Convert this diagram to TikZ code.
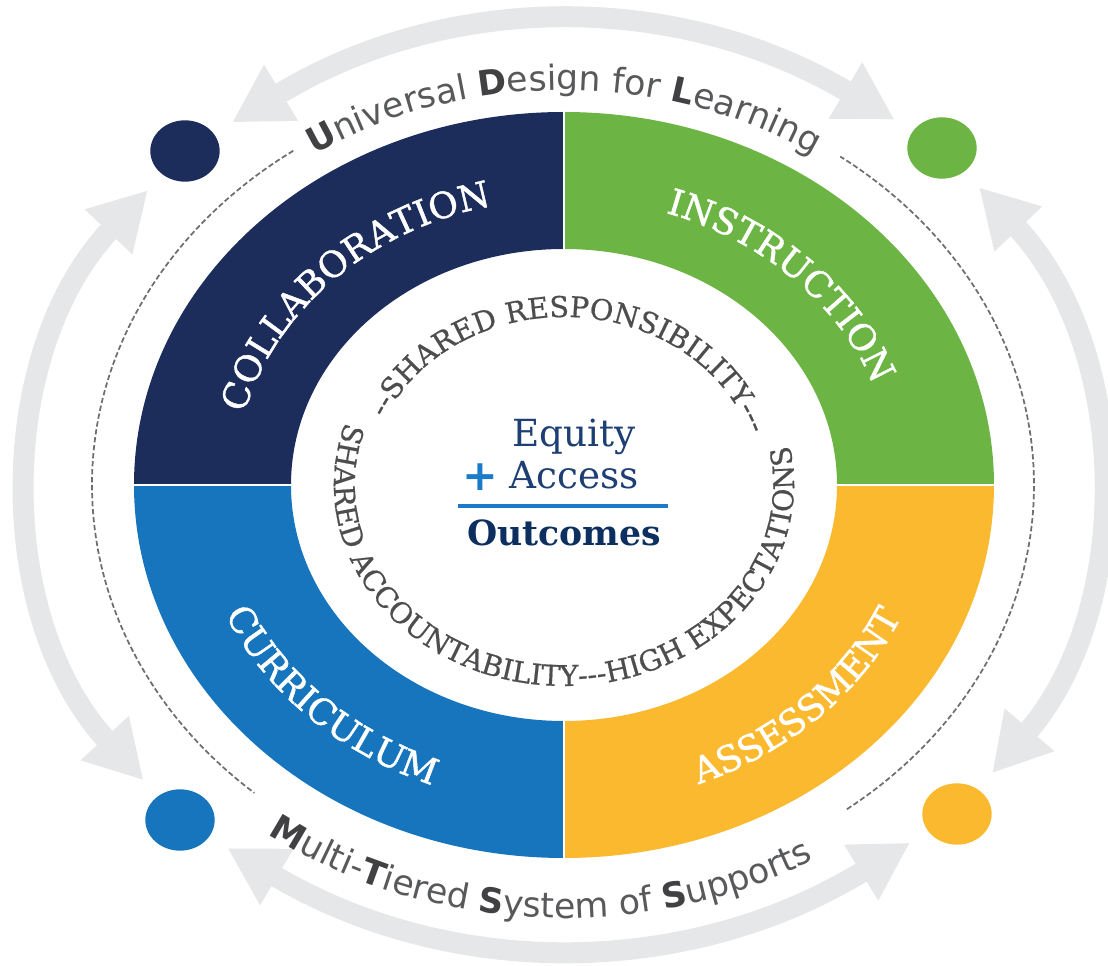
\documentclass[tikz,border=0pt]{standalone}
\usepackage{fontspec}
\usetikzlibrary{decorations.text,arrows.meta,shapes.geometric}
\newfontfamily\sansf{DejaVu Sans}
\newfontfamily\slabf{DejaVu Serif}
\newfontfamily\slabheavy{DejaVu Serif}[FakeBold=1.2]
\newfontfamily\slabmid{DejaVu Serif}[FakeBold=0.6]
\newcommand\outerfont{\sansf\fontsize{26}{26}\selectfont}
\newcommand\ringfont{\slabheavy\fontsize{27}{27}\selectfont}
\newcommand\innerfont{\slabmid\fontsize{21.5}{21.5}\selectfont}
\definecolor{navy}{HTML}{1C2C5B}
\definecolor{leaf}{HTML}{6CB545}
\definecolor{ocean}{HTML}{1675BD}
\definecolor{gold}{HTML}{FBB930}
\definecolor{mist}{HTML}{E6E7E8}
\definecolor{slate}{HTML}{6D6E71}
\definecolor{outgray}{HTML}{58595B}
\definecolor{initgray}{HTML}{414042}
\definecolor{ink}{HTML}{4D4D4F}
\definecolor{eqblue}{HTML}{1D3F73}
\definecolor{deepblue}{HTML}{0D2F5F}
\definecolor{plusblue}{HTML}{1B7BC8}

\begin{document}
\begin{tikzpicture}[x=0.75pt, y=0.75pt,
    dotnode/.style={ellipse, minimum width=52pt, minimum height=46pt, inner sep=0pt},
    grayarrow/.style={mist, line width=15.75pt, {Triangle[length=43pt,width=46pt]}-{Triangle[length=43pt,width=46pt]}, shorten <=16pt, shorten >=16pt},
    dashline/.style={slate, line width=1.3pt, dash pattern=on 4pt off 2pt},
    centertext/.style={anchor=base, inner sep=0pt}]
    \useasboundingbox (-564,-481) rectangle (544,485);

    % four quarters of the ring
    \foreach \c/\a in {leaf/0, navy/90, ocean/180, gold/270}
        \fill[\c] (\a:430 and 373) arc[start angle=\a, delta angle=90, x radius=430, y radius=373]
            -- ({\a+90}:273 and 236) arc[start angle=\a+90, delta angle=-90, x radius=273, y radius=236] -- cycle;
    \draw[white, line width=2pt] (-440,0) -- (440,0) (0,-380) -- (0,380);

    % corner dots and the grey arrows between them
    \node[dotnode, fill=navy] (navydot) at (-379,334) {};
    \node[dotnode, fill=leaf] (greendot) at (378,337) {};
    \node[dotnode, fill=ocean] (bluedot) at (-384,-335) {};
    \node[dotnode, fill=gold] (yellowdot) at (393,-329) {};
    \draw[grayarrow] (navydot) to[bend left=31] (greendot);
    \draw[grayarrow] (greendot) to[bend left=42] (yellowdot);
    \draw[grayarrow] (yellowdot) to[bend left=31] (bluedot);
    \draw[grayarrow] (bluedot) to[bend left=43] (navydot);

    % dashed arcs
    \draw[dashline] (125:472 and 408) arc[start angle=125, end angle=229, x radius=472, y radius=408];
    \draw[dashline] (-53:470 and 406) arc[start angle=-53, end angle=54, x radius=470, y radius=406];

    % outer labels
    \path[decorate, decoration={text along path, text align=center,
        text={|\outerfont\bfseries\color{initgray}|U|\outerfont\color{outgray}|niversal |\outerfont\bfseries\color{initgray}|D|\outerfont\color{outgray}|esign for |\outerfont\bfseries\color{initgray}|L|\outerfont\color{outgray}|earning}}]
        (180:456 and 395) arc[start angle=180, end angle=0, x radius=456, y radius=395];
    \path[decorate, decoration={text along path, text align=center,
        text={|\outerfont\bfseries\color{initgray}|M|\outerfont\color{outgray}|ulti-|\outerfont\bfseries\color{initgray}|T|\outerfont\color{outgray}|iered |\outerfont\bfseries\color{initgray}|S|\outerfont\color{outgray}|ystem of |\outerfont\bfseries\color{initgray}|S|\outerfont\color{outgray}|upports}}]
        (176.5:500 and 433) arc[start angle=176.5, end angle=356.5, x radius=500, y radius=433];

    % ring labels
    \path[decorate, decoration={text along path, text align=center, text color=white, text={|\ringfont|COLLABORATION}}]
        (180:330 and 286) arc[start angle=180, end angle=90, x radius=330, y radius=286];
    \path[decorate, decoration={text along path, text align=center, text color=white, text={|\ringfont|INSTRUCTION}}]
        (90:330 and 286) arc[start angle=90, end angle=0, x radius=330, y radius=286];
    \path[decorate, decoration={text along path, text align=center, text color=white, text={|\ringfont|CURRICULUM}}]
        (180:370 and 321) arc[start angle=180, end angle=270, x radius=370, y radius=321];
    \path[decorate, decoration={text along path, text align=center, text color=white, text={|\ringfont|ASSESSMENT}}]
        (270:370 and 321) arc[start angle=270, end angle=360, x radius=370, y radius=321];

    % inner circle of values
    \path[decorate, decoration={text along path, text align=center, text color=ink, text={|\innerfont|--SHARED RESPONSIBILITY---}}]
        (177:195 and 168) arc[start angle=177, end angle=-3, x radius=195, y radius=168];
    \path[decorate, decoration={text along path, text align=center, text color=ink, text={|\innerfont|SHARED ACCOUNTABILITY---HIGH EXPECTATIONS}}]
        (87:230 and 201) arc[start angle=87, end angle=447, x radius=230, y radius=201];

    % centre
    \node[centertext, font=\slabf\fontsize{28}{28}\selectfont, text=eqblue] (equity) at (10,38) {Equity};
    \node[centertext, font=\slabf\fontsize{28}{28}\selectfont, text=eqblue] (access) at (10,-4) {Access};
    \node[font=\sansf\bfseries\fontsize{32}{32}\selectfont, text=plusblue, inner sep=0pt] (plus) at (-84,8) {+};
    \draw[plusblue, line width=3pt] (-106,-21) -- (104,-21);
    \node[centertext, font=\slabf\bfseries\fontsize{26}{26}\selectfont, text=deepblue] (outcomes) at (0,-61) {Outcomes};
\end{tikzpicture}
\end{document}
